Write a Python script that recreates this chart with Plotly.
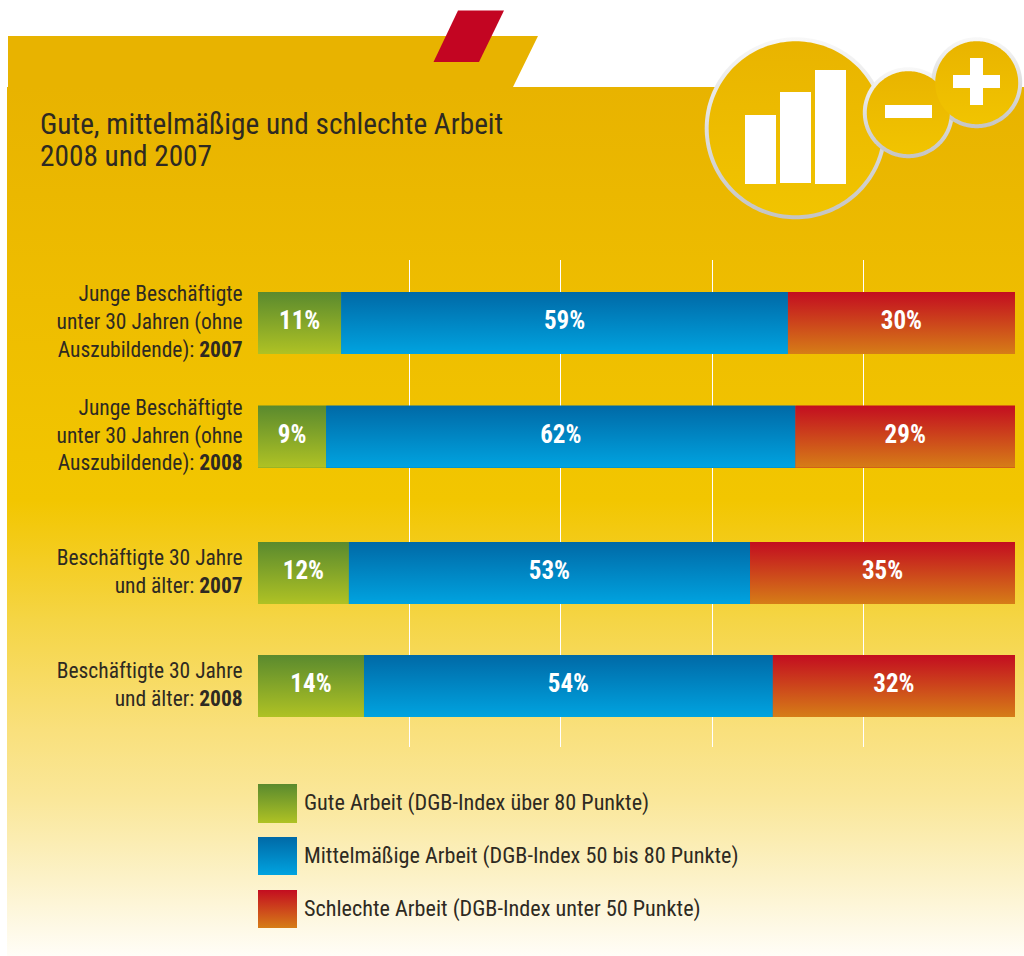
import numpy as np
import plotly.graph_objects as go

# ---------- data ----------
TITLE_LINES = ["Gute, mittelmäßige und schlechte Arbeit", "2008 und 2007"]
ROW_LABELS = [
    "Junge Beschäftigte<br>unter 30 Jahren (ohne<br>Auszubildende): <b>2007</b>",
    "Junge Beschäftigte<br>unter 30 Jahren (ohne<br>Auszubildende): <b>2008</b>",
    "Beschäftigte 30 Jahre<br>und älter: <b>2007</b>",
    "Beschäftigte 30 Jahre<br>und älter: <b>2008</b>",
]
GUTE = [11, 9, 12, 14]
MITTEL = [59, 62, 53, 54]
SCHLECHT = [30, 29, 35, 32]
LEGEND_LABELS = [
    "Gute Arbeit (DGB-Index über 80 Punkte)",
    "Mittelmäßige Arbeit (DGB-Index 50 bis 80 Punkte)",
    "Schlechte Arbeit (DGB-Index unter 50 Punkte)",
]
GRID_TICKS = [20, 40, 60, 80]

# ---------- layout constants ----------
W, H = 1024, 956
FONT = "Roboto Condensed, DejaVu Sans Condensed, sans-serif"
INK = "#2e2a22"
ROW_Y = [323, 436.5, 573, 686]
BAR_H = 62
PLOT_L, PLOT_R, PLOT_T, PLOT_B = 258, 1015, 260, 747
GRADS = [("#5a8a2e", "#afc224"), ("#0069a6", "#00a3e0"), ("#c30d20", "#d67d17")]
MIDS = ["#85a629", "#0086c3", "#cc451b"]
SW_Y = [(784, 823), (837, 875), (890, 928)]
SW_TEXT_Y = [802, 855, 908]

fig = go.Figure()


def grad(xs, ys, stops, xa="x", ya="y", start=None, stop=None):
    fig.add_trace(go.Scatter(
        x=list(xs), y=list(ys), xaxis=xa, yaxis=ya, mode="none", fill="toself",
        showlegend=False, hoverinfo="skip",
        fillgradient=dict(type="vertical", colorscale=stops,
                          start=start if start is not None else min(ys),
                          stop=stop if stop is not None else max(ys)),
    ))


def vrect(x0, x1, y0, y1, c0, c1, xa="x", ya="y"):
    grad([x0, x1, x1, x0, x0], [y0, y0, y1, y1, y0],
         [[0, c0], [1, c1]], xa, ya)


def circle(cx, cy, r, c0, c1):
    t = np.linspace(0, 2 * np.pi, 181)
    grad(cx + r * np.cos(t), cy + r * np.sin(t), [[0, c0], [1, c1]])


# background sheet
bg_stops_px = [(36, "#e8b300"), (87, "#e8b300"), (300, "#eebd00"), (500, "#f2c600"),
               (560, "#f4cd22"), (620, "#f5d545"), (730, "#f9e07c"), (800, "#fae79a"),
               (880, "#fcf2c9"), (956, "#fffdf7")]
bg_stops = [[(p - 36) / (956 - 36), c] for p, c in bg_stops_px]
grad([8, 538, 513, W, W, 7, 7, 8, 8], [36, 36, 87, 87, H, H, 87, 87, 36], bg_stops)

# legend swatches
for (y0, y1), (c0, c1) in zip(SW_Y, GRADS):
    vrect(258, 297, y0, y1, c0, c1)

# icon
RING = ("#f8f8f8", "#c4c4c4")
GOLD = ("#e9b400", "#f1c400")
circle(795.7, 128.3, 91, *RING)
circle(795.7, 128.3, 87, *GOLD)
circle(908.3, 112.7, 45.5, *RING)
circle(976.7, 82.7, 45.5, *RING)
circle(908.3, 112.7, 41.5, *GOLD)
circle(976.7, 82.7, 41.5, *GOLD)

# real stacked bars
series = [GUTE, MITTEL, SCHLECHT]
names = ["Gute Arbeit", "Mittelmäßige Arbeit", "Schlechte Arbeit"]
for vals, name, col in zip(series, names, MIDS):
    fig.add_trace(go.Bar(x=vals, y=ROW_Y, orientation="h", name=name, width=BAR_H,
                         marker=dict(color=col, line=dict(width=0)),
                         xaxis="x2", yaxis="y2", showlegend=False, hoverinfo="skip"))

# gradient skin and value labels derived from the same values
label_x, label_y, label_t = [], [], []
for i, yc in enumerate(ROW_Y):
    left = 0
    for vals, (c0, c1) in zip(series, GRADS):
        v = vals[i]
        vrect(left, left + v, yc - BAR_H / 2, yc + BAR_H / 2, c0, c1, "x2", "y2")
        label_x.append(left + v / 2)
        label_y.append(yc)
        label_t.append(f"{v}%")
        left += v
fig.add_trace(go.Scatter(x=label_x, y=label_y, text=label_t, mode="text", xaxis="x2", yaxis="y2",
                         textposition="middle center", showlegend=False, hoverinfo="skip",
                         textfont=dict(family=FONT, size=25, color="white", weight="bold")))

# decorative shapes
shapes = [dict(type="path", path="M458,10.5 L504,10.5 L479,62 L433.5,62 Z",
               fillcolor="#c30522", line=dict(width=0), layer="above")]
for x0, y0, x1, y1 in [(745, 115, 776, 184), (780, 92, 811, 183), (815, 70, 846, 184),
                       (885, 105, 932, 118), (953, 75, 1000, 88), (970, 58, 983, 105)]:
    shapes.append(dict(type="rect", x0=x0, y0=y0, x1=x1, y1=y1, fillcolor="white",
                       line=dict(width=0), layer="above"))
for s in shapes:
    s.update(xref="x", yref="y")

anns = []
for t, y in zip(TITLE_LINES, [124, 156]):
    anns.append(dict(text=t, x=38, y=y, xref="x", yref="y", xanchor="left", yanchor="middle",
                     showarrow=False, font=dict(family=FONT, size=29.3, color=INK)))
for t, y in zip(LEGEND_LABELS, SW_TEXT_Y):
    anns.append(dict(text=t, x=302, y=y, xref="x", yref="y", xanchor="left", yanchor="middle",
                     showarrow=False, font=dict(family=FONT, size=22.2, color=INK)))

fig.update_layout(
    width=W, height=H, margin=dict(l=0, r=0, t=0, b=0),
    paper_bgcolor="white", plot_bgcolor="rgba(0,0,0,0)",
    barmode="stack", hovermode=False, showlegend=False, shapes=shapes, annotations=anns,
    xaxis=dict(range=[0, W], domain=[0, 1], visible=False, fixedrange=True),
    yaxis=dict(range=[H, 0], domain=[0, 1], visible=False, fixedrange=True),
    xaxis2=dict(range=[0, 100], domain=[PLOT_L / W, PLOT_R / W], anchor="y2",
                tickvals=GRID_TICKS, showticklabels=False, ticks="", showline=False,
                showgrid=True, gridcolor="white", gridwidth=1.3, zeroline=False, fixedrange=True),
    yaxis2=dict(range=[PLOT_B, PLOT_T], domain=[1 - PLOT_B / H, 1 - PLOT_T / H], anchor="x2",
                tickmode="array", tickvals=[y - 1.5 for y in ROW_Y], ticktext=ROW_LABELS,
                ticks="outside", ticklen=10, tickcolor="rgba(0,0,0,0)", showgrid=False,
                showline=False, zeroline=False, fixedrange=True,
                tickfont=dict(family=FONT, size=21.5, color=INK)),
)

fig.write_html("out.html", config={"displayModeBar": False},
               post_script="document.body.style.margin='0';document.body.style.overflow='hidden';")
